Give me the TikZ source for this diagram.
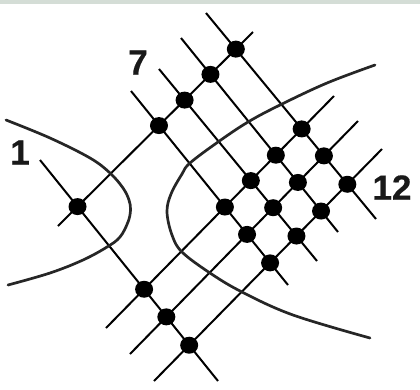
\documentclass[tikz,border=0pt]{standalone}
\usepackage{fontspec}
\setmainfont{Liberation Sans}
\newfontfamily\lblfont{Liberation Sans Bold}[FakeBold=0.5]
\usetikzlibrary{shapes.geometric}
\definecolor{band}{RGB}{212,221,214}
\definecolor{curvecol}{RGB}{38,38,38}
\begin{document}
\begin{tikzpicture}[x=1pt,y=-1pt,
  wire/.style={line width=2pt, black},
  branch/.style={line width=2.7pt, curvecol, line cap=round},
  dot/.style={ellipse, fill=black, minimum width=18pt, minimum height=17pt, inner sep=0pt},
  lbl/.style={font=\fontsize{35}{35}\lblfont, text=black!90, inner sep=0pt}]
\useasboundingbox (0,0) rectangle (420,389);
\fill[band] (0,0) rectangle (420,3.5);
% ascending lines
\coordinate (as0) at (58,226);  \coordinate (ae0) at (253,32);
\coordinate (as1) at (106,328); \coordinate (ae1) at (334,96);
\coordinate (as2) at (130,354); \coordinate (ae2) at (358,121);
\coordinate (as3) at (154,381); \coordinate (ae3) at (382,149);
% descending lines
\coordinate (ds0) at (40,160);  \coordinate (de0) at (218,381);
\coordinate (ds1) at (131,91);  \coordinate (de1) at (288,285);
\coordinate (ds2) at (159,69);  \coordinate (de2) at (317,261);
\coordinate (ds3) at (181,38);  \coordinate (de3) at (338,232);
\coordinate (ds4) at (206,13);  \coordinate (de4) at (376,219);
\foreach \i in {0,...,3} \draw[wire] (as\i) -- (ae\i);
\foreach \j in {0,...,4} \draw[wire] (ds\j) -- (de\j);
% hyperbola branches
\draw[branch] plot[smooth, tension=0.6] coordinates {(6,120) (50,138) (90,158) (110,173) (123,188) (129,200) (130.5,210) (128,222) (120,237) (107,247) (83,260) (50,273) (8,285)};
\draw[branch] plot[smooth, tension=0.6] coordinates {(375,65) (327,83) (280,105) (248,122) (218,142) (190,163) (182,174) (171,194) (167,212) (172,235) (182,252) (210,273) (242,292) (293,315) (370,338)};
% dots
\foreach \i in {0,...,3}{
  \foreach \j in {0,...,4}{
    \node[dot] (d\i\j) at (intersection cs: first line={(as\i)--(ae\i)}, second line={(ds\j)--(de\j)}) {};
  }
}
\node[lbl] (l1) at (20,152.5) {1};
\node[lbl] (l7) at (138,62.5) {7};
\node[lbl] (l12) at (392,187.5) {12};
\end{tikzpicture}
\end{document}
